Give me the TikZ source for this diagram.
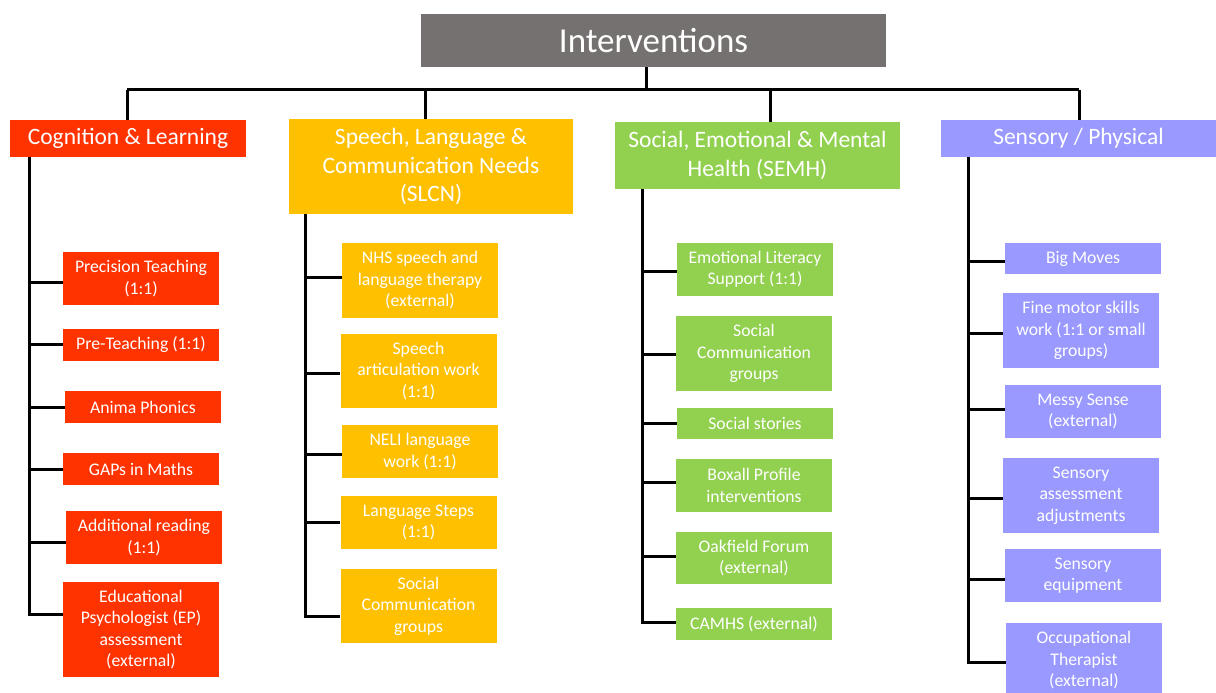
\documentclass[tikz,border=0pt]{standalone}
\usepackage{fontspec}
\setmainfont{Carlito}
\definecolor{titlec}{HTML}{767171}
\definecolor{cogc}{HTML}{FF3300}
\definecolor{slcnc}{HTML}{FFC000}
\definecolor{semhc}{HTML}{92D050}
\definecolor{sensc}{HTML}{9999FF}
\tikzset{
  box/.style={rectangle, inner sep=0pt, align=center, text=white, minimum width=156,
    font=\fontsize{17.7}{21.5}\selectfont},
  cat/.style={box, font=\fontsize{23.5}{28.5}\selectfont},
  conn/.style={line width=3pt, black},
}
\begin{document}
\begin{tikzpicture}[x=1pt,y=-1pt]
\useasboundingbox (0,0) rectangle (1216,693);
% title
\node[box, fill=titlec, minimum width=465, minimum height=53, font=\fontsize{35}{40}\selectfont] (title) at (653.5,40.5) {Interventions};
% categories
\node[cat, fill=cogc, minimum width=236, minimum height=37] (cog) at (128,138.5) {Cognition \& Learning};
\node[cat, fill=slcnc, minimum width=284, minimum height=95] (slcn) at (431,166.5) {Speech, Language \&\\Communication Needs\\(SLCN)};
\node[cat, fill=semhc, minimum width=285, minimum height=67] (semh) at (757.5,155.5) {Social, Emotional \& Mental\\Health (SEMH)};
\node[cat, fill=sensc, minimum width=275, minimum height=37] (sens) at (1078.5,138.5) {Sensory / Physical};
% top connectors
\coordinate (hub) at (646,90);
\coordinate (h1) at (127,90);
\coordinate (h2) at (425,90);
\coordinate (h3) at (770,90);
\coordinate (h4) at (1079,90);
\draw[conn] (title.south -| hub) -- (hub);
\draw[conn] (h1) -- (h4);
\draw[conn] (h1) -- (h1 |- cog.north);
\draw[conn] (h2) -- (h2 |- slcn.north);
\draw[conn] (h3) -- (h3 |- semh.north);
\draw[conn] (h4) -- (h4 |- sens.north);
% Cognition leaves
\node[box, fill=cogc, minimum height=53] (c1) at (141,278.5) {Precision Teaching\\(1:1)};
\node[box, fill=cogc, minimum height=32] (c2) at (141,345) {Pre-Teaching (1:1)};
\node[box, fill=cogc, minimum height=32] (c3) at (143,407) {Anima Phonics};
\node[box, fill=cogc, minimum height=32] (c4) at (141,469) {GAPs in Maths};
\node[box, fill=cogc, minimum height=53] (c5) at (144,537.5) {Additional reading\\(1:1)};
\node[box, fill=cogc, minimum height=95] (c6) at (141,629.5) {Educational\\Psychologist (EP)\\assessment\\(external)};
\coordinate (cb1) at (29,282);
\coordinate (cb2) at (29,344);
\coordinate (cb3) at (29,407);
\coordinate (cb4) at (29,469);
\coordinate (cb5) at (29,542);
\coordinate (cb6) at (29,614);
\draw[conn] (cb6 |- cog.south) -- ([yshift=-1.5pt]cb6);
\foreach \i in {1,...,6} { \draw[conn] (cb\i) -- (cb\i -| c\i.west); }
% SLCN leaves
\node[box, fill=slcnc, minimum height=75] (s1) at (420,280.5) {NHS speech and\\language therapy\\(external)};
\node[box, fill=slcnc, minimum height=74] (s2) at (418.5,371) {Speech\\articulation work\\(1:1)};
\node[box, fill=slcnc, minimum height=53] (s3) at (420,451.5) {NELI language\\work (1:1)};
\node[box, fill=slcnc, minimum height=53] (s4) at (418.5,522.5) {Language Steps\\(1:1)};
\node[box, fill=slcnc, minimum height=74] (s5) at (418.5,606) {Social\\Communication\\groups};
\coordinate (sb1) at (305,277);
\coordinate (sb2) at (305,373);
\coordinate (sb3) at (305,454);
\coordinate (sb4) at (305,522);
\coordinate (sb5) at (305,616);
\draw[conn] (sb5 |- slcn.south) -- ([yshift=-1.5pt]sb5);
\foreach \i in {1,...,5} { \draw[conn] (sb\i) -- (sb\i -| s\i.west); }
% SEMH leaves
\node[box, fill=semhc, minimum height=53] (e1) at (755,269.5) {Emotional Literacy\\Support (1:1)};
\node[box, fill=semhc, minimum height=75] (e2) at (754,353.5) {Social\\Communication\\groups};
\node[box, fill=semhc, minimum height=31] (e3) at (755,423.5) {Social stories};
\node[box, fill=semhc, minimum height=53] (e4) at (754,485.5) {Boxall Profile\\interventions};
\node[box, fill=semhc, minimum height=52] (e5) at (754,558) {Oakfield Forum\\(external)};
\node[box, fill=semhc, minimum height=32] (e6) at (754,624) {CAMHS (external)};
\coordinate (eb1) at (642,271);
\coordinate (eb2) at (642,354);
\coordinate (eb3) at (642,423);
\coordinate (eb4) at (642,482);
\coordinate (eb5) at (642,556);
\coordinate (eb6) at (642,622);
\draw[conn] (eb6 |- semh.south) -- ([yshift=-1.5pt]eb6);
\foreach \i in {1,...,6} { \draw[conn] (eb\i) -- (eb\i -| e\i.west); }
% Sensory leaves
\node[box, fill=sensc, minimum height=31] (p1) at (1083,258.5) {Big Moves};
\node[box, fill=sensc, minimum height=75] (p2) at (1081,330.5) {Fine motor skills\\work (1:1 or small\\groups)};
\node[box, fill=sensc, minimum height=53] (p3) at (1083,411.5) {Messy Sense\\(external)};
\node[box, fill=sensc, minimum height=75] (p4) at (1081,495.5) {Sensory\\assessment\\adjustments};
\node[box, fill=sensc, minimum height=53] (p5) at (1083,575.5) {Sensory\\equipment};
\node[box, fill=sensc, minimum height=75] (p6) at (1084,660.5) {Occupational\\Therapist\\(external)};
\coordinate (pb1) at (968,261);
\coordinate (pb2) at (968,333);
\coordinate (pb3) at (968,409);
\coordinate (pb4) at (968,498);
\coordinate (pb5) at (968,579);
\coordinate (pb6) at (968,662);
\draw[conn] (pb6 |- sens.south) -- ([yshift=-1.5pt]pb6);
\foreach \i in {1,...,6} { \draw[conn] (pb\i) -- (pb\i -| p\i.west); }
\end{tikzpicture}
\end{document}
